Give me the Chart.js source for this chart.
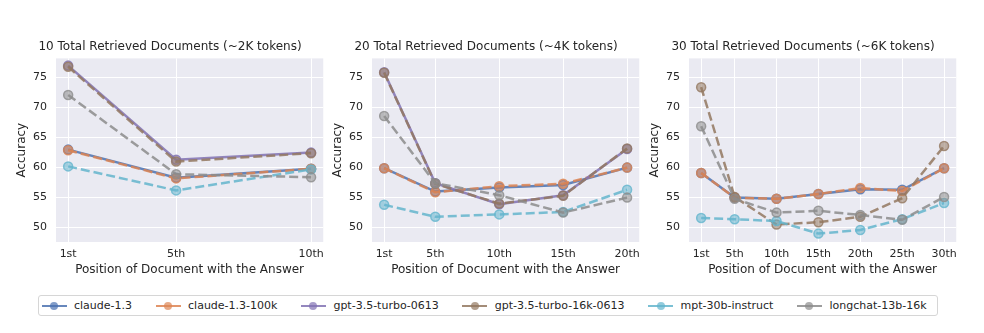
<!DOCTYPE html>
<html>
<head>
<meta charset="utf-8">
<script src="https://cdn.jsdelivr.net/npm/chart.js@4.4.0/dist/chart.umd.min.js"></script>
<style>
  body { margin: 0; background: #fff; font-family: "DejaVu Sans", sans-serif; }
  #wrap { position: relative; width: 984px; height: 333px; }
  .panel { position: absolute; top: 31px; width: 330px; height: 255px; }
  #legend {
    position: absolute; left: 38px; top: 295px; width: 900px; height: 21px;
    border: 1px solid #d6d6d6; border-radius: 3px; background: rgba(255,255,255,0.8);
    display: flex; align-items: center; padding-left: 2.5px; box-sizing: border-box;
    font-size: 11px; color: #262626; white-space: nowrap;
  }
  .item { display: flex; align-items: center; flex-shrink: 0; margin-right: 23.5px; }
  .handle { position: relative; width: 25px; height: 10px; margin-right: 7.5px; flex-shrink: 0; }
  .handle .ln { position: absolute; left: 0; right: 0; top: 4px; height: 2.5px; }
  .handle .dot { position: absolute; left: 8.5px; top: 1px; width: 8px; height: 8px; border-radius: 50%; }
</style>
</head>
<body>
<div id="wrap">
  <div class="panel" style="left:0px"><canvas id="c10"></canvas></div>
  <div class="panel" style="left:316px"><canvas id="c20"></canvas></div>
  <div class="panel" style="left:633px"><canvas id="c30"></canvas></div>
  <div id="legend"></div>
</div>
<script>
const models = ['claude-1.3', 'claude-1.3-100k', 'gpt-3.5-turbo-0613', 'gpt-3.5-turbo-16k-0613', 'mpt-30b-instruct', 'longchat-13b-16k'];
const colors = ['#4C72B0', '#DD8452', '#8172B3', '#937860', '#64B5CD', '#8C8C8C'];
const dashed = [false, true, false, true, true, true];

const positions10 = [1, 5, 10];
const labels10 = ['1st', '5th', '10th'];
const positions20 = [1, 5, 10, 15, 20];
const labels20 = ['1st', '5th', '10th', '15th', '20th'];
const positions30 = [1, 5, 10, 15, 20, 25, 30];
const labels30 = ['1st', '5th', '10th', '15th', '20th', '25th', '30th'];

// accuracy per model, 10 documents
const claude13_10 = [63.0, 58.3, 59.8];
const claude100k_10 = [62.9, 58.2, 59.8];
const gpt35_10 = [77.0, 61.3, 62.5];
const gpt16k_10 = [76.8, 61.0, 62.4];
const mpt_10 = [60.2, 56.2, 59.7];
const longchat_10 = [72.1, 58.9, 58.4];

// 20 documents
const claude13_20 = [59.9, 56.0, 56.7, 57.1, 60.0];
const claude100k_20 = [59.9, 55.9, 56.9, 57.3, 60.0];
const gpt35_20 = [75.9, 57.4, 53.9, 55.4, 63.1];
const gpt16k_20 = [75.8, 57.3, 54.0, 55.3, 63.2];
const mpt_20 = [53.8, 51.8, 52.2, 52.6, 56.3];
const longchat_20 = [68.6, 57.4, 55.4, 52.5, 55.0];

// 30 documents (gpt-3.5-turbo-0613 doesn't fit the context)
const claude13_30 = [59.1, 55.0, 54.8, 55.6, 56.4, 56.3, 59.9];
const claude100k_30 = [59.1, 55.0, 54.8, 55.6, 56.6, 56.1, 59.9];
const gpt35_30 = null;
const gpt16k_30 = [73.4, 55.1, 50.5, 50.9, 51.8, 54.9, 63.6];
const mpt_30 = [51.6, 51.4, 51.1, 49.0, 49.6, 51.4, 54.1];
const longchat_30 = [66.9, 54.8, 52.5, 52.8, 52.1, 51.3, 55.1];

const yTicks = [50, 55, 60, 65, 70, 75];
const yMin = 47.6, yMax = 78.2;

function rgba(hex, a) {
  const n = parseInt(hex.slice(1), 16);
  return `rgba(${n >> 16},${(n >> 8) & 255},${n & 255},${a})`;
}

const bgPlugin = {
  id: 'bg',
  beforeDraw(chart) {
    const { ctx, chartArea: a } = chart;
    ctx.save();
    ctx.fillStyle = '#EAEAF2';
    ctx.fillRect(a.left, a.top, a.right - a.left, a.bottom - a.top);
    ctx.restore();
  }
};

function makeChart(id, title, positions, labels, series) {
  const datasets = [];
  series.forEach((vals, i) => {
    if (!vals) return;
    datasets.push({
      label: models[i],
      data: positions.map((p, k) => ({ x: p, y: vals[k] })),
      borderColor: rgba(colors[i], 0.85),
      borderWidth: 2.5,
      borderDash: dashed[i] ? [9, 4] : [],
      pointRadius: 4.5,
      pointBackgroundColor: rgba(colors[i], 0.55),
      pointBorderColor: rgba(colors[i], 0.8),
      pointBorderWidth: 1.5,
      tension: 0,
      order: -i
    });
  });
  const span = positions[positions.length - 1] - positions[0];
  new Chart(document.getElementById(id), {
    type: 'line',
    data: { datasets },
    plugins: [bgPlugin],
    options: {
      responsive: true,
      maintainAspectRatio: false,
      animation: false,
      events: [],
      layout: { padding: { left: 15, right: 5, top: 9, bottom: 0 } },
      plugins: {
        legend: { display: false },
        tooltip: { enabled: false },
        title: {
          display: true,
          text: title,
          color: '#262626',
          font: { family: 'DejaVu Sans', size: 12, weight: 'normal' },
          padding: { top: 0, bottom: 4 }
        }
      },
      scales: {
        x: {
          type: 'linear',
          min: positions[0] - span * 0.05,
          max: positions[positions.length - 1] + span * 0.05,
          afterBuildTicks: s => { s.ticks = positions.map(v => ({ value: v })); },
          afterFit: s => { s.height = 44; },
          grid: { color: '#ffffff', lineWidth: 1, drawTicks: false },
          border: { display: false },
          ticks: {
            padding: 6,
            color: '#262626',
            font: { family: 'DejaVu Sans', size: 11 },
            maxRotation: 0,
            callback: v => labels[positions.indexOf(v)]
          },
          title: {
            display: true,
            text: 'Position of Document with the Answer',
            color: '#262626',
            font: { family: 'DejaVu Sans', size: 12 },
            padding: { top: 0, bottom: 9 }
          }
        },
        y: {
          min: yMin,
          max: yMax,
          afterBuildTicks: s => { s.ticks = yTicks.map(v => ({ value: v })); },
          afterFit: s => { s.width = 41; },
          grid: { color: '#ffffff', lineWidth: 1, drawTicks: false },
          border: { display: false },
          ticks: {
            padding: 9,
            color: '#262626',
            font: { family: 'DejaVu Sans', size: 11 }
          },
          title: {
            display: true,
            text: 'Accuracy',
            color: '#262626',
            font: { family: 'DejaVu Sans', size: 12 },
            padding: { top: 0, bottom: 0 }
          }
        }
      }
    }
  });
}

makeChart('c10', '10 Total Retrieved Documents (~2K tokens)', positions10, labels10,
  [claude13_10, claude100k_10, gpt35_10, gpt16k_10, mpt_10, longchat_10]);
makeChart('c20', '20 Total Retrieved Documents (~4K tokens)', positions20, labels20,
  [claude13_20, claude100k_20, gpt35_20, gpt16k_20, mpt_20, longchat_20]);
makeChart('c30', '30 Total Retrieved Documents (~6K tokens)', positions30, labels30,
  [claude13_30, claude100k_30, gpt35_30, gpt16k_30, mpt_30, longchat_30]);

// shared legend below the panels
const legend = document.getElementById('legend');
models.forEach((m, i) => {
  const item = document.createElement('div');
  item.className = 'item';
  item.innerHTML = `<div class="handle"><div class="ln" style="background:${rgba(colors[i], 0.85)}"></div>` +
    `<div class="dot" style="background:${rgba(colors[i], 0.7)}"></div></div><span>${m}</span>`;
  legend.appendChild(item);
});
</script>
</body>
</html>
